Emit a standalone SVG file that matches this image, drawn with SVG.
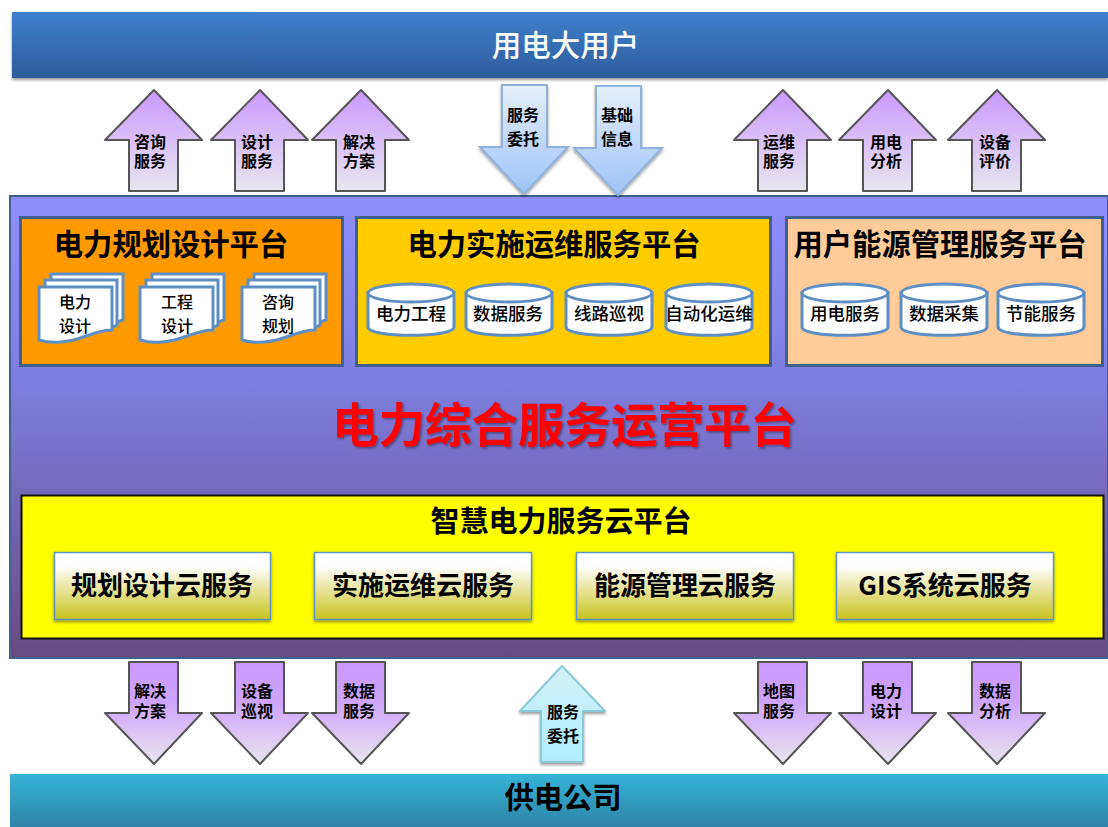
<svg xmlns="http://www.w3.org/2000/svg" width="1108" height="827" viewBox="0 0 1108 827">
<style>
text{font-family:"Noto Sans CJK SC","Liberation Sans",sans-serif;text-anchor:middle;fill:#000;font-weight:700}
.t16{font-size:16px}.t18{font-size:17.5px;font-weight:500}.d16{font-size:16px;font-weight:500}
.t29{font-size:29.300px}.t26{font-size:26px}
.pu{fill:url(#gUp);stroke:#555;stroke-width:2;stroke-linejoin:round}
.pd{fill:url(#gDown);stroke:#555;stroke-width:2;stroke-linejoin:round}
.bl{fill:url(#gBlue);stroke:#8fb2dc;stroke-width:2;stroke-linejoin:miter}
.lb{fill:url(#gLight);stroke:#8ac8dc;stroke-width:2;stroke-linejoin:round}
.btn{fill:url(#gBtn);stroke:#5f93c8;stroke-width:1.5;filter:url(#sh)}
.doc{fill:#fff;stroke:#5e8fc4;stroke-width:3}
.cyl{fill:#fff;stroke:#5e8fc4;stroke-width:3}
.panel{stroke:#3f608c;stroke-width:3}
</style>
<defs>
<linearGradient id="gTop" x1="0" y1="0" x2="0" y2="1"><stop offset="0" stop-color="#3f7fcd"/><stop offset="1" stop-color="#2d5d9b"/></linearGradient>
<linearGradient id="gMain" x1="0" y1="0" x2="0" y2="1"><stop offset="0" stop-color="#8f8ffc"/><stop offset=".4" stop-color="#7e7ee0"/><stop offset="1" stop-color="#684a80"/></linearGradient>
<linearGradient id="gBot" x1="0" y1="0" x2="0" y2="1"><stop offset="0" stop-color="#36b3d9"/><stop offset="1" stop-color="#2d84a6"/></linearGradient>
<linearGradient id="gUp" x1="0" y1="0" x2="0" y2="1"><stop offset="0" stop-color="#cc99ff"/><stop offset="1" stop-color="#e6e6ee"/></linearGradient>
<linearGradient id="gDown" x1="0" y1="0" x2="0" y2="1"><stop offset="0" stop-color="#cc99ff"/><stop offset=".4" stop-color="#cfa4fa"/><stop offset="1" stop-color="#e8e6ee"/></linearGradient>
<linearGradient id="gBlue" x1="0" y1="0" x2="0" y2="1"><stop offset="0" stop-color="#e6effc"/><stop offset="1" stop-color="#9dc3f5"/></linearGradient>
<linearGradient id="gLight" x1="0" y1="0" x2="0" y2="1"><stop offset="0" stop-color="#d4f1f8"/><stop offset="1" stop-color="#aeeeff"/></linearGradient>
<linearGradient id="gBtn" x1="0" y1="0" x2="0" y2="1"><stop offset="0" stop-color="#fff"/><stop offset=".2" stop-color="#fff"/><stop offset="1" stop-color="#c9c21c"/></linearGradient>
<filter id="sh" x="-5%" y="-10%" width="110%" height="125%"><feDropShadow dx="0" dy="2" stdDeviation="1.5" flood-color="#000" flood-opacity=".4"/></filter>
<filter id="tsh" x="-5%" y="-10%" width="110%" height="125%"><feDropShadow dx="1.5" dy="1.5" stdDeviation="1" flood-color="#000" flood-opacity=".4"/></filter>
<path id="aUp" d="M49 0L97 50H73V101H24V50H0Z"/>
<path id="aDown" d="M24 0H73V51H97L49 102L0 51H24Z"/>
<path id="aBlue" d="M22 0H67V62H88L44 109L0 62H22Z"/>
<path id="aLight" d="M42 0L85 45H63V96H21V45H0Z"/>
<g id="docs">
<path class="doc" d="M12 -13H84V33L76 36H12Z"/>
<path class="doc" d="M6 -7H78V38L70 42H6Z"/>
<path class="doc" d="M0 0H73V43C55 43 42 54 22 55C12 56 6 55 0 53Z"/>
</g>
<g id="cyl">
<path class="cyl" d="M1 9V43C1 54 87 54 87 43V9Z"/>
<ellipse class="cyl" cx="44" cy="9" rx="43" ry="9"/>
</g>
</defs>

<g id="main-platform">
<rect x="10" y="196" width="1098" height="462" fill="url(#gMain)" stroke="#3f608c" stroke-width="2"/>
<text x="564.500" y="442" font-size="46.500" style="fill:#f00" filter="url(#tsh)">电力综合服务运营平台</text>
</g>

<g id="top-bar">
<rect x="12" y="12" width="1096" height="66" fill="url(#gTop)" filter="url(#sh)"/>
<text x="565.500" y="56" font-size="29.500" style="fill:#fff;font-weight:500">用电大用户</text>
</g>
<g id="bottom-bar">
<rect x="10" y="774" width="1098" height="53" fill="url(#gBot)"/>
<text class="t29" x="563" y="808">供电公司</text>
</g>

<g id="planning-platform">
<rect class="panel" x="20.500" y="217.500" width="322" height="148" fill="#ff9900"/>
<text class="t29" x="171" y="255">电力规划设计平台</text>
<use href="#docs" x="39" y="287"/><text class="d16" x="75" y="308"><tspan x="75">电力</tspan><tspan x="75" dy="24">设计</tspan></text>
<use href="#docs" x="140" y="287"/><text class="d16" x="177" y="308"><tspan x="177">工程</tspan><tspan x="177" dy="24">设计</tspan></text>
<use href="#docs" x="242" y="287"/><text class="d16" x="278" y="308"><tspan x="278">咨询</tspan><tspan x="278" dy="24">规划</tspan></text>
</g>
<g id="operation-platform">
<rect class="panel" x="356.500" y="217.500" width="414" height="148" fill="#ffcc00"/>
<text class="t29" x="554" y="255">电力实施运维服务平台</text>
<use href="#cyl" x="367" y="284"/><text class="t18" x="411" y="320">电力工程</text>
<use href="#cyl" x="465" y="284"/><text class="t18" x="508" y="320">数据服务</text>
<use href="#cyl" x="565" y="284"/><text class="t18" x="609" y="320">线路巡视</text>
<use href="#cyl" x="665" y="284"/><text class="t18" x="709" y="320">自动化运维</text>
</g>
<g id="energy-platform">
<rect class="panel" x="786.500" y="217.500" width="316" height="148" fill="#ffcc99"/>
<text class="t29" x="940" y="255">用户能源管理服务平台</text>
<use href="#cyl" x="801" y="284"/><text class="t18" x="845" y="320">用电服务</text>
<use href="#cyl" x="900" y="284"/><text class="t18" x="944" y="320">数据采集</text>
<use href="#cyl" x="997" y="284"/><text class="t18" x="1041" y="320">节能服务</text>
</g>

<g id="cloud-platform">
<rect x="21.500" y="495.500" width="1082" height="143" fill="#ffff00" stroke="#111" stroke-width="2"/>
<text x="561" y="532" font-size="29">智慧电力服务云平台</text>
</g>
<g id="cloud-planning"><rect class="btn" x="54.500" y="552.500" width="216" height="67"/><text class="t26" x="162" y="595">规划设计云服务</text></g>
<g id="cloud-operation"><rect class="btn" x="314.500" y="552.500" width="217" height="67"/><text class="t26" x="423" y="595">实施运维云服务</text></g>
<g id="cloud-energy"><rect class="btn" x="576.500" y="552.500" width="217" height="67"/><text class="t26" x="685" y="595">能源管理云服务</text></g>
<g id="cloud-gis"><rect class="btn" x="836.500" y="552.500" width="217" height="67"/><text class="t26" x="945" y="595">GIS系统云服务</text></g>

<g id="connectors">
<use class="pu" href="#aUp" x="105" y="90"/>
<use class="pu" href="#aUp" x="211" y="90"/>
<use class="pu" href="#aUp" x="312" y="90"/>
<use class="pu" href="#aUp" x="734" y="90"/>
<use class="pu" href="#aUp" x="839" y="90"/>
<use class="pu" href="#aUp" x="948" y="90"/>
<use class="bl" href="#aBlue" x="480" y="85" filter="url(#sh)"/>
<use class="bl" href="#aBlue" x="574" y="86" filter="url(#sh)"/>
<use class="pd" href="#aDown" x="105" y="662"/>
<use class="pd" href="#aDown" x="211" y="662"/>
<use class="pd" href="#aDown" x="312" y="662"/>
<use class="pd" href="#aDown" x="734" y="662"/>
<use class="pd" href="#aDown" x="839" y="662"/>
<use class="pd" href="#aDown" x="948" y="662"/>
<use class="lb" href="#aLight" x="520" y="666" filter="url(#sh)"/>
</g>
<g id="connector-labels">
<text class="t16" x="150" y="148"><tspan x="150">咨询</tspan><tspan x="150" dy="19">服务</tspan></text>
<text class="t16" x="257" y="148"><tspan x="257">设计</tspan><tspan x="257" dy="19">服务</tspan></text>
<text class="t16" x="359" y="148"><tspan x="359">解决</tspan><tspan x="359" dy="19">方案</tspan></text>
<text class="t16" x="779" y="148"><tspan x="779">运维</tspan><tspan x="779" dy="19">服务</tspan></text>
<text class="t16" x="886" y="148"><tspan x="886">用电</tspan><tspan x="886" dy="19">分析</tspan></text>
<text class="t16" x="995" y="148"><tspan x="995">设备</tspan><tspan x="995" dy="19">评价</tspan></text>
<text class="t16" x="523" y="121"><tspan x="523">服务</tspan><tspan x="523" dy="24">委托</tspan></text>
<text class="t16" x="617" y="121"><tspan x="617">基础</tspan><tspan x="617" dy="24">信息</tspan></text>
<text class="t16" x="150" y="697"><tspan x="150">解决</tspan><tspan x="150" dy="20">方案</tspan></text>
<text class="t16" x="257" y="697"><tspan x="257">设备</tspan><tspan x="257" dy="20">巡视</tspan></text>
<text class="t16" x="359" y="697"><tspan x="359">数据</tspan><tspan x="359" dy="20">服务</tspan></text>
<text class="t16" x="779" y="697"><tspan x="779">地图</tspan><tspan x="779" dy="20">服务</tspan></text>
<text class="t16" x="886" y="697"><tspan x="886">电力</tspan><tspan x="886" dy="20">设计</tspan></text>
<text class="t16" x="995" y="697"><tspan x="995">数据</tspan><tspan x="995" dy="20">分析</tspan></text>
<text class="t16" x="563" y="718"><tspan x="563">服务</tspan><tspan x="563" dy="24">委托</tspan></text>
</g>
</svg>
